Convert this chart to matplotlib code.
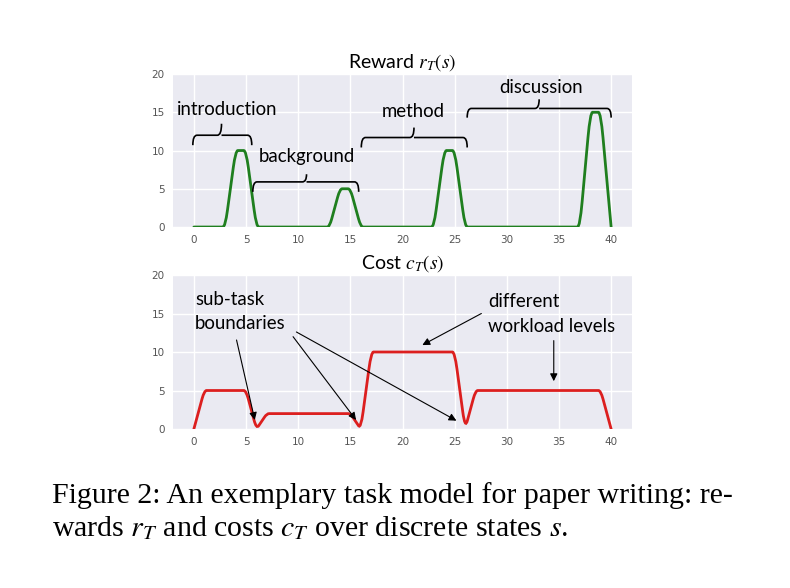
import matplotlib
matplotlib.use("Agg")
import matplotlib.pyplot as plt
from matplotlib.path import Path
from matplotlib.patches import PathPatch
import numpy as np

# ---- data ----
states = list(range(0, 41))
reward = [0, 0, 0, 0, 10, 10, 0, 0, 0, 0, 0, 0, 0, 0, 5, 5, 0, 0, 0, 0, 0,
          0, 0, 0, 10, 10, 0, 0, 0, 0, 0, 0, 0, 0, 0, 0, 0, 0, 15, 15, 0]
cost = [0, 5, 5, 5, 5, 5, 0, 2, 2, 2, 2, 2, 2, 2, 2, 2, 0, 10, 10, 10, 10,
        10, 10, 10, 10, 10, 0, 5, 5, 5, 5, 5, 5, 5, 5, 5, 5, 5, 5, 5, 0]
xticks = [0, 5, 10, 15, 20, 25, 30, 35, 40]
yticks = [0, 5, 10, 15, 20]

plt.rcParams['mathtext.fontset'] = 'stix'
ANN = 'Lato'
GRAY = '#555555'


def smooth_path(xs, ys, t=0.22):
    pts = np.column_stack([xs, ys]).astype(float)
    verts = [pts[0]]
    codes = [Path.MOVETO]
    for i in range(1, len(pts) - 1):
        p0, p1, p2 = pts[i - 1], pts[i], pts[i + 1]
        a = p1 - t * (p1 - p0)
        b = p1 + t * (p2 - p1)
        verts += [a, p1, b]
        codes += [Path.LINETO, Path.CURVE3, Path.CURVE3]
    verts.append(pts[-1])
    codes.append(Path.LINETO)
    return Path(verts, codes)


def style_axes(ax):
    ax.set_facecolor('#EAEAF2')
    for s in ax.spines.values():
        s.set_visible(False)
    ax.set_xlim(-2, 42)
    ax.set_ylim(0, 20)
    ax.set_xticks(xticks)
    ax.set_yticks(yticks)
    ax.grid(True, color='white', linewidth=1.0)
    ax.set_axisbelow(True)
    ax.tick_params(length=0, labelsize=7.5, labelcolor=GRAY, pad=6)


def brace(ax, x0, x1, xm, y, down=1.3, up=1.5, color='black'):
    # curly brace opening downwards
    h = 0.4
    verts = [(x0, y - down), (x0, y), (x0 + h, y),
             (xm - h, y), (xm, y), (xm, y + up),
             (xm, y), (xm + h, y),
             (x1 - h, y), (x1, y), (x1, y - down)]
    codes = [Path.MOVETO, Path.CURVE3, Path.CURVE3,
             Path.LINETO, Path.CURVE3, Path.CURVE3,
             Path.MOVETO, Path.LINETO,
             Path.LINETO, Path.CURVE3, Path.CURVE3]
    ax.add_patch(PathPatch(Path(verts, codes), fill=False, edgecolor=color,
                           linewidth=1.2, clip_on=False))


fig = plt.figure(figsize=(7.9, 5.88), dpi=100)
fig.patch.set_facecolor('white')

ax1 = fig.add_axes([0.219, 0.6139, 0.581, 0.2602])
ax2 = fig.add_axes([0.219, 0.2704, 0.581, 0.2619])
style_axes(ax1)
style_axes(ax2)

ax1.add_patch(PathPatch(smooth_path(states, reward), fill=False,
                        edgecolor='#1f7f1f', linewidth=2.0, capstyle='round'))
ax2.add_patch(PathPatch(smooth_path(states, cost), fill=False,
                        edgecolor='#dc1f1f', linewidth=2.0, capstyle='round'))

ax1.set_title(r'Reward $r_T(s)$', fontsize=14, family=ANN, pad=5)
ax2.set_title(r'Cost $c_T(s)$', fontsize=14, family=ANN, pad=5)

# braces and labels (reward)
fs = 13.4
brace(ax1, -0.1, 5.55, 2.65, 12.0, down=1.3, up=1.5)
ax1.text(3.2, 15.3, 'introduction', fontsize=fs, family=ANN, ha='center', va='center')
brace(ax1, 5.65, 15.8, 10.8, 5.9, down=1.3, up=1.0)
ax1.text(10.8, 9.2, 'background', fontsize=fs, family=ANN, ha='center', va='center')
brace(ax1, 16.05, 26.2, 21.1, 11.7, down=1.3, up=1.3)
ax1.text(21.05, 15.1, 'method', fontsize=fs, family=ANN, ha='center', va='center')
brace(ax1, 26.2, 40.0, 33.1, 15.5, down=1.2, up=1.2)
ax1.text(33.3, 18.3, 'discussion', fontsize=fs, family=ANN, ha='center', va='center')

# annotations (cost)
ax2.text(0.1, 15.3, 'sub-task\nboundaries', fontsize=fs, family=ANN,
         ha='left', va='center', linespacing=1.5)
ax2.text(28.2, 14.9, 'different\nworkload levels', fontsize=fs, family=ANN,
         ha='left', va='center', linespacing=1.6)

arrows = [((4.09, 11.56), (5.84, 1.17)),
          ((9.51, 11.99), (15.55, 1.17)),
          ((9.83, 12.6), (25.17, 1.08)),
          ((27.56, 15.0), (21.9, 10.9)),
          ((34.5, 11.48), (34.5, 6.21))]
for start, end in arrows:
    ax2.annotate('', xy=end, xytext=start,
                 arrowprops=dict(arrowstyle='-|>', color='black', lw=0.8,
                                 mutation_scale=11, shrinkA=0, shrinkB=0))

# caption
cap_kw = dict(fontsize=21.5, family='Liberation Serif', ha='left', va='baseline')
fig.text(52 / 790, 1 - 503 / 588,
         'Figure 2: An exemplary task model for paper writing: re-', **cap_kw)
fig.text(52 / 790, 1 - 536 / 588,
         r'wards $r_T$ and costs $c_T$ over discrete states $s$.', **cap_kw)

fig.savefig('out.png', dpi=100, facecolor='white')
